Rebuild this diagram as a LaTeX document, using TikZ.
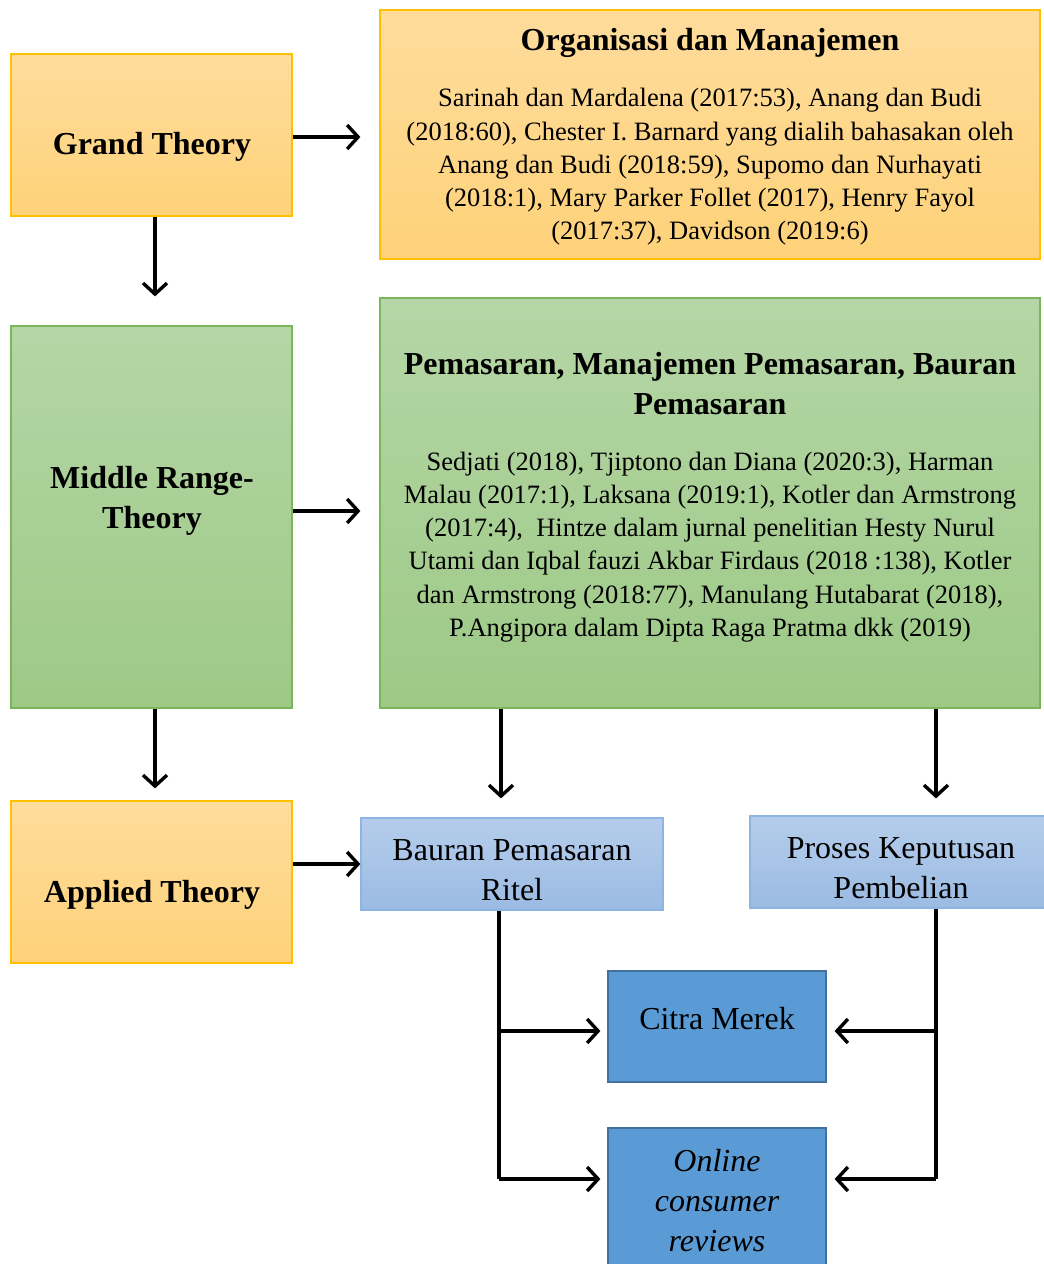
\documentclass[tikz,border=0pt]{standalone}
\usepackage{fontspec}
\setmainfont{Liberation Serif}
\usetikzlibrary{arrows.meta}
\definecolor{gold}{HTML}{FFC000}
\definecolor{orgtop}{HTML}{FEDC9C}
\definecolor{orgbot}{HTML}{FED279}
\definecolor{leaf}{HTML}{7CB65A}
\definecolor{grntop}{HTML}{B5D6A6}
\definecolor{grnbot}{HTML}{9DC986}
\definecolor{skyline}{HTML}{8EB4E3}
\definecolor{skytop}{HTML}{B5CDEB}
\definecolor{skybot}{HTML}{9BBBE3}
\definecolor{deep}{HTML}{5B9BD5}
\definecolor{deepline}{HTML}{41719C}
\tikzset{
  box/.style={draw,line width=1.2pt,inner sep=0pt},
  obox/.style={box,draw=gold,top color=orgtop,bottom color=orgbot},
  gbox/.style={box,draw=leaf,top color=grntop,bottom color=grnbot},
  lbox/.style={box,draw=skyline,top color=skytop,bottom color=skybot},
  dbox/.style={box,draw=deepline,fill=deep},
  hd/.style={font=\bfseries\fontsize{32}{40}\selectfont,align=center,inner sep=0pt},
  txt/.style={font=\fontsize{26.5}{33.3}\selectfont,align=center,inner sep=0pt},
  sub/.style={font=\fontsize{32}{40}\selectfont,align=center,inner sep=0pt},
  arr/.style={-{Straight Barb[length=11pt,width=24pt]},line width=3.4pt},
  wire/.style={line width=3.4pt},
}
\begin{document}
\begin{tikzpicture}[x=1pt,y=-1pt]
\useasboundingbox (0,0) rectangle (1044,1264);
\fill[white] (0,0) rectangle (1044,1264);
\clip (0,0) rectangle (1044,1264);
\node[obox,minimum width=281pt,minimum height=162pt] (grand) at (151.5,135) {};
\node[obox,minimum width=660pt,minimum height=249pt] (org) at (710,134.5) {};
\node[gbox,minimum width=281pt,minimum height=382pt] (middle) at (151.5,517) {};
\node[gbox,minimum width=660pt,minimum height=410pt] (pem) at (710,503) {};
\node[obox,minimum width=281pt,minimum height=162pt] (applied) at (151.5,882) {};
\node[lbox,minimum width=302pt,minimum height=92pt] (bauran) at (512,864) {};
\node[lbox,minimum width=302pt,minimum height=92pt] (proses) at (901,862) {};
\node[dbox,minimum width=218pt,minimum height=111pt] (citra) at (717,1026.5) {};
\node[dbox,minimum width=218pt,minimum height=144pt] (online) at (717,1200) {};

\node[hd] (grandt) at (152,147) {Grand Theory};
\node[hd] (orgt) at (710,43) {Organisasi dan Manajemen};
\node[txt] (orgb) at (710,167) {Sarinah dan Mardalena (2017:53), Anang dan Budi\\
  (2018:60), Chester I. Barnard yang dialih bahasakan oleh\\
  Anang dan Budi (2018:59), Supomo dan Nurhayati\\
  (2018:1), Mary Parker Follet (2017), Henry Fayol\\
  (2017:37), Davidson (2019:6)};
\node[hd] (middlet) at (152,501) {Middle Range-\\Theory};
\node[hd] (pemt) at (710,384) {Pemasaran, Manajemen Pemasaran, Bauran\\Pemasaran};
\node[txt] (pemb) at (710,547) {Sedjati (2018), Tjiptono dan Diana (2020:3), Harman\\
  Malau (2017:1), Laksana (2019:1), Kotler dan Armstrong\\
  (2017:4),\ \ Hintze dalam jurnal penelitian Hesty Nurul\\
  Utami dan Iqbal fauzi Akbar Firdaus (2018 :138), Kotler\\
  dan Armstrong (2018:77), Manulang Hutabarat (2018),\\
  P.Angipora dalam Dipta Raga Pratma dkk (2019)};
\node[hd] (appliedt) at (152,895) {Applied Theory};
\node[sub] (baurant) at (512,870) {Bauran Pemasaran\\Ritel};
\node[sub] (prosest) at (901,868) {Proses Keputusan\\Pembelian};
\node[sub] (citrat) at (717,1019) {Citra Merek};
\node[sub,font=\itshape\fontsize{32}{40}\selectfont] (onlinet) at (717,1201) {Online\\consumer\\reviews};

\coordinate (lt) at (499,1031);
\coordinate (lb) at (499,1179);
\coordinate (rt) at (936,1031);
\coordinate (rb) at (936,1179);

\draw[arr,shorten >=19pt] (grand.east |- 0,137) -- (org.west |- 0,137);
\draw[arr,shorten >=29pt] (grand.south -| 155,0) -- (middle.north -| 155,0);
\draw[arr,shorten >=19pt] (middle.east |- 0,511) -- (pem.west |- 0,511);
\draw[arr,shorten >=12pt] (middle.south -| 155,0) -- (applied.north -| 155,0);
\draw[arr,shorten >=19pt] (pem.south -| 501,0) -- (bauran.north -| 501,0);
\draw[arr,shorten >=17pt] (pem.south -| rt) -- (proses.north -| rt);
\draw[arr] (applied.east |- bauran.west) -- (bauran.west);
\draw[wire] (bauran.south -| lb) -- (lb);
\draw[arr,shorten >=7pt] (lt) -- (citra.west |- lt);
\draw[arr,shorten >=7pt] (lb) -- (online.west |- lb);
\draw[wire] (proses.south -| rb) -- (rb);
\draw[arr,shorten >=8pt] (rt) -- (citra.east |- rt);
\draw[arr,shorten >=8pt] (rb) -- (online.east |- rb);
\end{tikzpicture}
\end{document}
